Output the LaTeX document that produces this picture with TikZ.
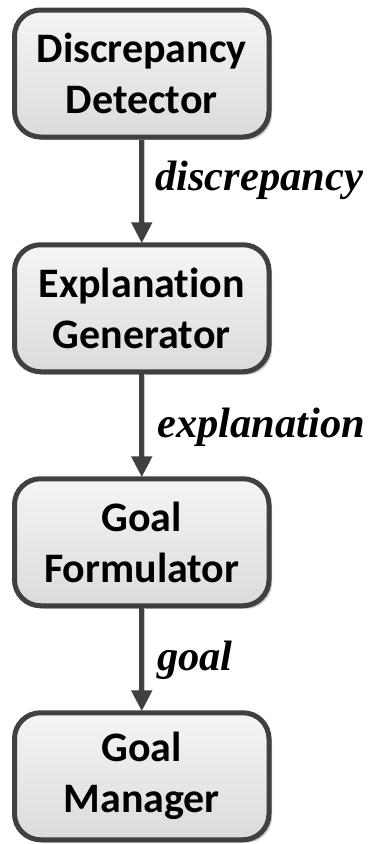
\documentclass[tikz,border=0pt]{standalone}
\usepackage{fontspec}
\setmainfont[Ligatures=NoCommon]{Carlito}
\newfontfamily\labelfont{Liberation Serif}
\usetikzlibrary{arrows.meta,shadows,shapes.misc}
\definecolor{edgegray}{HTML}{404040}
\definecolor{shadowgray}{HTML}{C8C8C8}
\tikzset{
  module/.style={
    draw=edgegray, line width=5pt, rounded corners=26pt,
    minimum width=254.5pt, minimum height=127pt,
    top color=white!96!black, bottom color=white!86!black,
    drop shadow={shadow xshift=3pt, shadow yshift=-3pt, fill=shadowgray, opacity=1},
    align=center, inner sep=0pt,
    font=\fontsize{42}{51}\selectfont\bfseries
  },
  flow/.style={
    draw=edgegray, line width=5pt,
    -{Triangle[width=20pt,length=21pt]}, shorten >=-1pt,
    preaction={draw=shadowgray, transform canvas={xshift=2.5pt}}
  },
  flowlabel/.style={
    anchor=base west, inner sep=0pt,
    font=\labelfont\fontsize{42.5}{44}\selectfont\bfseries\itshape
  }
}
\begin{document}
\begin{tikzpicture}[x=1pt,y=-1pt]
  \useasboundingbox (0,0) rectangle (370,844);
  \node[module] (det) at (141.75,73.5)   {Discrepancy\\Detector};
  \node[module] (gen) at (141.75,308.25) {Explanation\\Generator};
  \node[module] (form) at (141.75,542.25) {Goal\\Formulator};
  \node[module] (man) at (141.75,776.25) {Goal\\Manager};

  \draw[flow] (det.south) -- (gen.north);
  \draw[flow] (gen.south) -- (form.north);
  \draw[flow] (form.south) -- (man.north);

  \node[flowlabel] (l1) at (155,190) {discrepancy};
  \node[flowlabel] (l2) at (157,437) {explanation};
  \node[flowlabel] (l3) at (157,670) {goal};
\end{tikzpicture}
\end{document}
